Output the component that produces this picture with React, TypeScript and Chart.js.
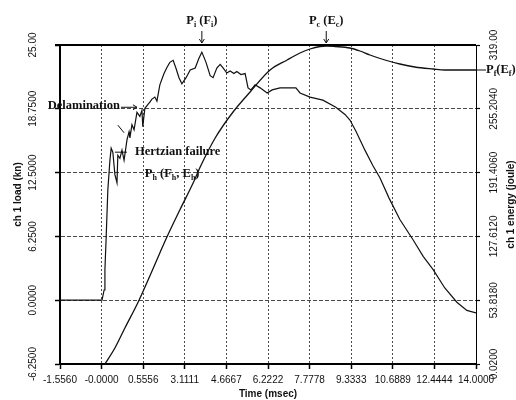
import React, { useEffect, useRef } from 'react';
import { Chart, registerables } from 'chart.js';

Chart.register(...registerables);

// ---- axis tick labels (the original plot has evenly spaced grid divisions) ----
const xTickLabels = ['-1.5560', '-0.0000', '0.5556', '3.1111', '4.6667', '6.2222', '7.7778', '9.3333', '10.6889', '12.4444', '14.0000'];
const loadTickValues = [-6.25, 0, 6.25, 12.5, 18.75, 25];
const loadTickLabels = ['-6.2500', '0.0000', '6.2500', '12.5000', '18.7500', '25.00'];
const energyTickValues = [0.02, 63.816, 127.612, 191.406, 255.204, 319];
const energyTickLabels = ['0.0200', '53.8180', '127.6120', '191.4060', '255.2040', '319.00'];

// ---- series: x in grid divisions (0..10), load in kN ----
const loadX = [0, 1.01, 1.06, 1.08, 1.11, 1.15, 1.2, 1.23, 1.27, 1.32, 1.37, 1.39, 1.44, 1.49, 1.54, 1.61, 1.66, 1.68, 1.73, 1.78, 1.85, 1.92, 1.97, 1.99, 2.04, 2.12, 2.16, 2.21, 2.28, 2.33, 2.4, 2.5, 2.57, 2.64, 2.72, 2.79, 2.86, 2.93, 3.03, 3.13, 3.25, 3.34, 3.41, 3.51, 3.61, 3.68, 3.77, 3.85, 3.92, 4.01, 4.09, 4.18, 4.25, 4.35, 4.45, 4.52, 4.59, 4.69, 4.81, 4.98, 5.1, 5.29, 5.53, 5.67, 5.77, 6.01, 6.32, 6.63, 6.85, 6.97, 7.12, 7.33, 7.52, 7.69, 7.91, 8.17, 8.49, 8.73, 8.97, 9.25, 9.54, 9.78, 10];
const loadY = [0, 0, 1.0, 3.0, 6.2, 10.8, 13.7, 14.9, 14.5, 12.3, 11.5, 14.2, 13.9, 14.7, 13.7, 15.7, 16.5, 15.9, 17.2, 16.7, 18.4, 18.0, 18.6, 17.0, 18.8, 19.2, 19.4, 19.7, 19.9, 19.5, 21.1, 22.2, 22.8, 23.3, 23.5, 22.7, 21.8, 21.2, 21.8, 22.55, 22.75, 23.7, 24.3, 23.3, 22.0, 21.8, 22.75, 23.1, 22.75, 22.25, 22.45, 22.2, 22.4, 22.1, 22.2, 20.8, 20.6, 21.1, 20.8, 20.3, 20.6, 20.8, 20.8, 20.8, 20.3, 19.9, 19.6, 18.9, 18.2, 17.65, 16.5, 14.7, 13.2, 12.0, 10.0, 7.9, 5.9, 4.3, 3.0, 1.2, -0.2, -1.0, -1.25];

// energy in joule
const energyX = [1.08, 1.32, 1.56, 1.88, 2.16, 2.4, 2.57, 2.88, 3.2, 3.37, 3.73, 4.16, 4.57, 5.05, 5.46, 5.77, 6.01, 6.25, 6.4, 6.61, 6.97, 7.21, 7.45, 7.81, 8.17, 8.53, 8.97, 9.25, 10];
const energyY = [0.02, 16, 36, 62, 88, 111, 127, 154, 181, 197, 226, 252, 272, 294, 304, 311, 315, 317.5, 318, 317.5, 316, 313, 309, 304, 300, 297, 295, 294, 294];

const SANS = '"Liberation Sans", Arial, sans-serif';
const SERIF = '"Liberation Serif", "Times New Roman", serif';

type Part = { t: string; sub?: boolean };

function rotText(ctx: CanvasRenderingContext2D, t: string, x: number, y: number) {
  ctx.save();
  ctx.translate(x, y);
  ctx.rotate(-Math.PI / 2);
  ctx.textAlign = 'center';
  ctx.textBaseline = 'middle';
  ctx.fillText(t, 0, 0);
  ctx.restore();
}

function rich(ctx: CanvasRenderingContext2D, parts: Part[], x: number, y: number, align: 'left' | 'center' | 'right') {
  const big = 'bold 12.5px ' + SERIF;
  const small = 'bold 8px ' + SERIF;
  let w = 0;
  parts.forEach((p) => {
    ctx.font = p.sub ? small : big;
    w += ctx.measureText(p.t).width;
  });
  let cx = align === 'center' ? x - w / 2 : align === 'right' ? x - w : x;
  ctx.textAlign = 'left';
  ctx.textBaseline = 'middle';
  parts.forEach((p) => {
    ctx.font = p.sub ? small : big;
    ctx.fillText(p.t, cx, p.sub ? y + 4 : y);
    cx += ctx.measureText(p.t).width;
  });
}

function arrowDown(ctx: CanvasRenderingContext2D, x: number, y0: number, y1: number) {
  ctx.beginPath();
  ctx.moveTo(x, y0);
  ctx.lineTo(x, y1);
  ctx.stroke();
  ctx.beginPath();
  ctx.moveTo(x - 2.5, y1 - 4);
  ctx.lineTo(x, y1);
  ctx.lineTo(x + 2.5, y1 - 4);
  ctx.stroke();
}

function arrowRight(ctx: CanvasRenderingContext2D, x0: number, x1: number, y: number) {
  ctx.beginPath();
  ctx.moveTo(x0, y);
  ctx.lineTo(x1, y);
  ctx.stroke();
  ctx.beginPath();
  ctx.moveTo(x1 - 4, y - 2.5);
  ctx.lineTo(x1, y);
  ctx.lineTo(x1 - 4, y + 2.5);
  ctx.stroke();
}

const decorPlugin = {
  id: 'decor',
  afterDraw(chart: any) {
    const { ctx, chartArea: ca, scales } = chart;
    const sx = scales.x;
    const sy = scales.y;
    const sy1 = scales.y1;
    ctx.save();
    // top frame
    ctx.strokeStyle = '#000';
    ctx.lineWidth = 2;
    ctx.beginPath();
    ctx.moveTo(ca.left - 5, ca.top);
    ctx.lineTo(ca.right, ca.top);
    ctx.stroke();

    // rotated tick labels
    ctx.fillStyle = '#111';
    ctx.font = '10px ' + SANS;
    loadTickValues.forEach((v, i) => rotText(ctx, loadTickLabels[i], ca.left - 27, sy.getPixelForValue(v)));
    energyTickValues.forEach((v, i) => rotText(ctx, energyTickLabels[i], ca.right + 18, sy1.getPixelForValue(v)));
    ctx.font = 'bold 10px ' + SANS;
    rotText(ctx, 'ch 1 load (kn)', ca.left - 42, (ca.top + ca.bottom) / 2 - 10);
    rotText(ctx, 'ch 1 energy (joule)', ca.right + 35, (ca.top + ca.bottom) / 2);

    // annotations
    ctx.fillStyle = '#111';
    ctx.strokeStyle = '#111';
    ctx.lineWidth = 1;
    const iMax = loadY.indexOf(Math.max(...loadY));
    const px = sx.getPixelForValue(loadX[iMax]);
    rich(ctx, [{ t: 'P' }, { t: 'i', sub: true }, { t: ' (F' }, { t: 'i', sub: true }, { t: ')' }], px, ca.top - 24, 'center');
    arrowDown(ctx, px, ca.top - 14, ca.top - 2);

    const eMax = energyY.indexOf(Math.max(...energyY));
    const ex = sx.getPixelForValue(energyX[eMax]);
    rich(ctx, [{ t: 'P' }, { t: 'c', sub: true }, { t: ' (E' }, { t: 'c', sub: true }, { t: ')' }], ex, ca.top - 24, 'center');
    arrowDown(ctx, ex, ca.top - 14, ca.top - 2);

    const fy = sy1.getPixelForValue(energyY[energyY.length - 1]);
    ctx.beginPath();
    ctx.moveTo(ca.right, fy);
    ctx.lineTo(ca.right + 10, fy);
    ctx.stroke();
    rich(ctx, [{ t: 'P' }, { t: 'f', sub: true }, { t: '(E' }, { t: 'f', sub: true }, { t: ')' }], ca.right + 10, fy, 'left');

    // Delamination
    const dx = sx.getPixelForValue(1.85);
    const dy = sy.getPixelForValue(18.9);
    rich(ctx, [{ t: 'Delamination' }], dx - 17, dy - 2, 'right');
    arrowRight(ctx, dx - 16, dx, dy);
    ctx.beginPath();
    ctx.moveTo(sx.getPixelForValue(1.39), sy.getPixelForValue(17.15));
    ctx.lineTo(sx.getPixelForValue(1.54), sy.getPixelForValue(16.4));
    ctx.stroke();

    // Hertzian failure
    const hx = sx.getPixelForValue(1.32);
    const hy = sy.getPixelForValue(14.5);
    ctx.beginPath();
    ctx.moveTo(hx, hy);
    ctx.lineTo(hx + 12, hy);
    ctx.stroke();
    rich(ctx, [{ t: 'Hertzian failure' }], hx + 20, hy, 'left');

    const phx = sx.getPixelForValue(2.04);
    const phy = sy.getPixelForValue(12.4);
    rich(ctx, [{ t: 'P' }, { t: 'h', sub: true }, { t: ' (F' }, { t: 'h', sub: true }, { t: ', E' }, { t: 'h', sub: true }, { t: ')' }], phx, phy, 'left');
    ctx.restore();
  },
};

export default function App() {
  const ref = useRef<HTMLCanvasElement | null>(null);
  useEffect(() => {
    if (!ref.current) return;
    const gridColor = '#4a4a4a';
    const chart = new Chart(ref.current, {
      type: 'line',
      data: {
        datasets: [
          {
            label: 'ch 1 load (kn)',
            data: loadX.map((x, i) => ({ x, y: loadY[i] })),
            borderColor: '#111',
            borderWidth: 1.2,
            pointRadius: 0,
            tension: 0,
            yAxisID: 'y',
          },
          {
            label: 'ch 1 energy (joule)',
            data: energyX.map((x, i) => ({ x, y: energyY[i] })),
            borderColor: '#111',
            borderWidth: 1.3,
            pointRadius: 0,
            tension: 0.4,
            cubicInterpolationMode: 'monotone',
            yAxisID: 'y1',
          },
        ],
      },
      options: {
        animation: false,
        responsive: false,
        layout: { padding: { top: 45, left: 0, right: 0, bottom: 0 } },
        plugins: { legend: { display: false }, tooltip: { enabled: false } },
        scales: {
          x: {
            type: 'linear',
            min: 0,
            max: 10,
            afterBuildTicks: (s: any) => {
              s.ticks = xTickLabels.map((_, i) => ({ value: i }));
            },
            afterFit: (s: any) => {
              s.height = 36;
            },
            ticks: {
              callback: (_v: any, i: number) => xTickLabels[i],
              autoSkip: false,
              maxRotation: 0,
              minRotation: 0,
              padding: 5,
              color: '#111',
              font: { size: 10, family: SANS },
            },
            grid: { color: gridColor, lineWidth: 1, tickLength: 5, tickColor: '#000', tickWidth: 1.5 },
            border: { display: true, color: '#000', width: 2, dash: [2, 2] },
            title: { display: true, text: 'Time (msec)', color: '#111', font: { size: 10, weight: 'bold', family: SANS }, padding: { top: 0, bottom: 0 } },
          },
          y: {
            type: 'linear',
            position: 'left',
            min: -6.25,
            max: 25,
            afterBuildTicks: (s: any) => {
              s.ticks = loadTickValues.map((v) => ({ value: v }));
            },
            afterFit: (s: any) => {
              s.width = 60;
            },
            ticks: { display: false },
            grid: { color: gridColor, lineWidth: 1, tickLength: 5, tickColor: '#000', tickWidth: 1.5 },
            border: { display: true, color: '#000', width: 2, dash: [4, 2] },
          },
          y1: {
            type: 'linear',
            position: 'right',
            min: 0.02,
            max: 319,
            afterBuildTicks: (s: any) => {
              s.ticks = energyTickValues.map((v) => ({ value: v }));
            },
            afterFit: (s: any) => {
              s.width = 40;
            },
            ticks: { display: false },
            grid: { drawOnChartArea: false, tickLength: 4, tickColor: '#000', tickWidth: 1.2 },
            border: { display: true, color: '#000', width: 1 },
          },
        },
      } as any,
      plugins: [decorPlugin],
    });
    return () => chart.destroy();
  }, []);
  return (
    <div style={{ position: 'fixed', left: 0, top: 0, width: 516, height: 400, background: '#fff' }}>
      <canvas ref={ref} width={516} height={400} style={{ display: 'block' }} />
    </div>
  );
}
